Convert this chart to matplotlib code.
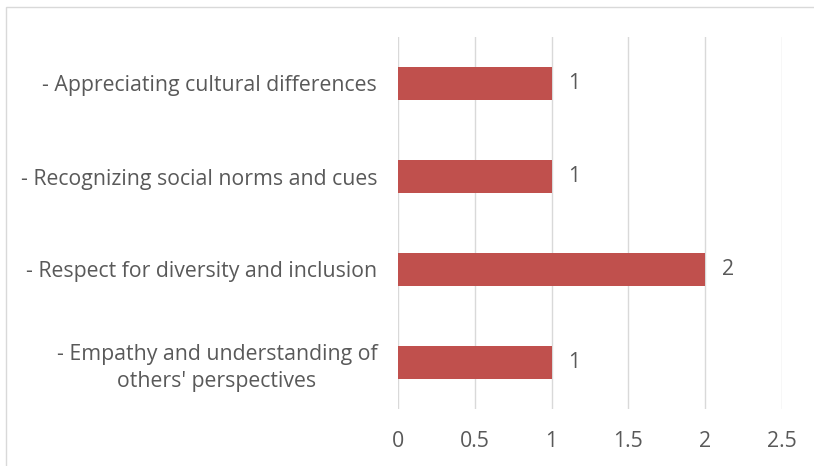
import matplotlib
matplotlib.use("Agg")
import matplotlib.pyplot as plt
from matplotlib.patches import Rectangle

categories = ["- Empathy and understanding of\nothers' perspectives",
              "- Respect for diversity and inclusion",
              "- Recognizing social norms and cues",
              "- Appreciating cultural differences"]
values = [1, 2, 1, 1]
xticks = [0, 0.5, 1, 1.5, 2, 2.5]
xticklabels = ["0", "0.5", "1", "1.5", "2", "2.5"]

plt.rcParams['font.family'] = ['Open Sans', 'DejaVu Sans']
text_color = '#595959'
grid_color = '#D9D9D9'
bar_color = '#C0504D'
fs = 15.3

W, H = 814, 466
fig = plt.figure(figsize=(W/100, H/100), dpi=100)
fig.patches.append(Rectangle((6/W, -0.1), 2, 1 - 7/H + 0.1, transform=fig.transFigure,
                             fill=False, edgecolor='#D9D9D9', linewidth=1.0))
ax = fig.add_axes([398/W, 1 - 409/H, (782-398)/W, (409-37)/H])

ypos = list(range(len(categories)))
bars = ax.barh(ypos, values, height=0.35, color=bar_color, zorder=3)
ax.set_ylim(-0.5, len(categories) - 0.5)
ax.set_xlim(0, 2.5)
ax.set_xticks(xticks)
ax.set_xticklabels(xticklabels)
ax.set_yticks(ypos)
ax.set_yticklabels(categories, multialignment='center', linespacing=1.4)
ax.tick_params(axis='both', length=0, colors=text_color, labelsize=fs)
ax.tick_params(axis='y', pad=15)
ax.tick_params(axis='x', pad=16)
for s in ax.spines.values():
    s.set_visible(False)
ax.grid(axis='x', color=grid_color, linewidth=1.0, zorder=0)
ax.set_axisbelow(True)

for b, v in zip(bars, values):
    ax.annotate(str(v), (b.get_width(), b.get_y() + b.get_height()/2),
                xytext=(12, 0), textcoords='offset points', va='center', ha='left',
                color=text_color, fontsize=fs)

fig.savefig("out.png", dpi=100)
